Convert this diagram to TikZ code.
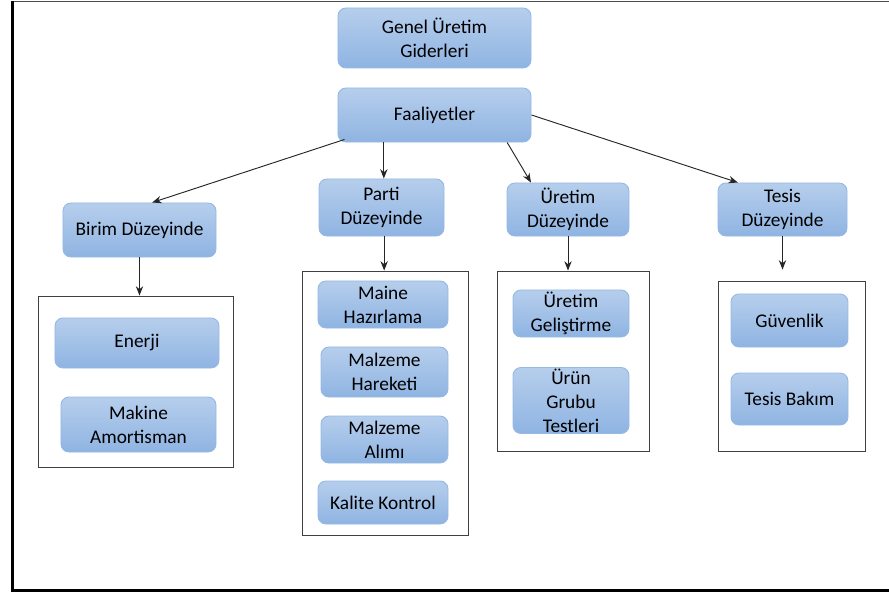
\documentclass[tikz,border=0pt]{standalone}
\usepackage{fontspec}
\setmainfont{Carlito}
\usepackage{tikz}
\usetikzlibrary{arrows,arrows.meta,positioning,shadings}
\definecolor{kutuust}{RGB}{182,206,236}
\definecolor{kutualt}{RGB}{143,180,226}
\definecolor{kutukenar}{RGB}{150,185,228}
\tikzset{blok/.style={draw=kutukenar, line width=0.8pt, rounded corners=2.4mm,
    top color=kutuust, bottom color=kutualt, align=center, inner sep=1pt,
    font=\fontsize{16.5}{20.5}\selectfont, text=black}}
\tikzset{grup/.style={draw=black!75, line width=0.8pt, inner sep=0pt}}
\tikzset{ok/.style={line width=0.8pt, black!85, -{Stealth[length=2.8mm,width=2.2mm]}}}

\begin{document}
\begin{tikzpicture}[x=0.03cm,y=-0.03cm]
    \useasboundingbox (0,0) rectangle (889,594);
    % cerceve
    \draw[black!70, line width=0.7pt] (12,1.5) -- (889,1.5);
    \draw[black, line width=1.9pt] (12.5,1) -- (12.5,590.5) -- (889,590.5);

    % ust kisim
    \node[blok, minimum width=5.79cm, minimum height=1.8cm] (genel) at (434.5,38) {Genel Üretim\\Giderleri};
    \node[blok, minimum width=5.79cm, minimum height=1.62cm] (faal) at (434.5,115) {Faaliyetler};

    % duzeyler
    \node[blok, minimum width=4.59cm, minimum height=1.62cm] (birim) at (139.5,230) {Birim Düzeyinde};
    \node[blok, minimum width=3.75cm, minimum height=1.71cm] (parti) at (381.5,207.5) {Parti\\Düzeyinde};
    \node[blok, minimum width=3.66cm, minimum height=1.59cm] (uretim) at (568,209.5) {Üretim\\Düzeyinde};
    \node[blok, minimum width=3.87cm, minimum height=1.59cm] (tesis) at (782.5,209.5) {Tesis\\Düzeyinde};

    % gruplar
    \node[grup, minimum width=5.85cm, minimum height=5.13cm] (k1) at (135.5,381.5) {};
    \node[grup, minimum width=4.98cm, minimum height=7.92cm] (k2) at (385,403) {};
    \node[grup, minimum width=4.56cm, minimum height=5.4cm] (k3) at (573,361) {};
    \node[grup, minimum width=4.41cm, minimum height=5.1cm] (k4) at (791.5,366) {};

    \node[blok, minimum width=4.92cm, minimum height=1.5cm] (enerji) at (137,343) {Enerji};
    \node[blok, minimum width=4.65cm, minimum height=1.65cm] (makine) at (138.5,424.5) {Makine\\Amortisman};

    \node[blok, minimum width=3.9cm, minimum height=1.41cm] (maine) at (383,304.5) {Maine\\Hazırlama};
    \node[blok, minimum width=3.81cm, minimum height=1.5cm] (hareket) at (384.5,372) {Malzeme\\Hareketi};
    \node[blok, minimum width=3.81cm, minimum height=1.41cm] (alim) at (384.5,439.5) {Malzeme\\Alımı};
    \node[blok, minimum width=3.9cm, minimum height=1.29cm] (kalite) at (383,502.5) {Kalite Kontrol};

    \node[blok, minimum width=3.48cm, minimum height=1.41cm] (gelistir) at (571,313.5) {Üretim\\Geliştirme};
    \node[blok, minimum width=3.48cm, minimum height=1.95cm] (grubu) at (571,400.5) {Ürün\\Grubu\\Testleri};

    \node[blok, minimum width=3.51cm, minimum height=1.59cm] (guven) at (789.5,320.5) {Güvenlik};
    \node[blok, minimum width=3.51cm, minimum height=1.56cm] (bakim) at (789.5,399) {Tesis Bakım};

    % oklar
    \draw[ok] ([xshift=0.21cm,yshift=0.09cm]faal.south west) -- ([xshift=0.38cm]birim.north);
    \draw[ok] ([xshift=-1.52cm]faal.south) -- ([xshift=-1.52cm]faal.south |- parti.north);
    \draw[ok] ([xshift=2.18cm]faal.south) -- ([xshift=-1.11cm]uretim.north);
    \draw[ok] (faal.east) -- ([xshift=-1.34cm]tesis.north);

    \draw[ok] (birim.south) -- (birim.south |- k1.north);
    \draw[ok] ([xshift=0.08cm]parti.south) -- ([xshift=0.08cm]parti.south |- k2.north);
    \draw[ok] (uretim.south) -- (uretim.south |- k3.north);
    \draw[ok] (tesis.south) -- ([yshift=0.33cm]tesis.south |- k4.north);
\end{tikzpicture}
\end{document}
